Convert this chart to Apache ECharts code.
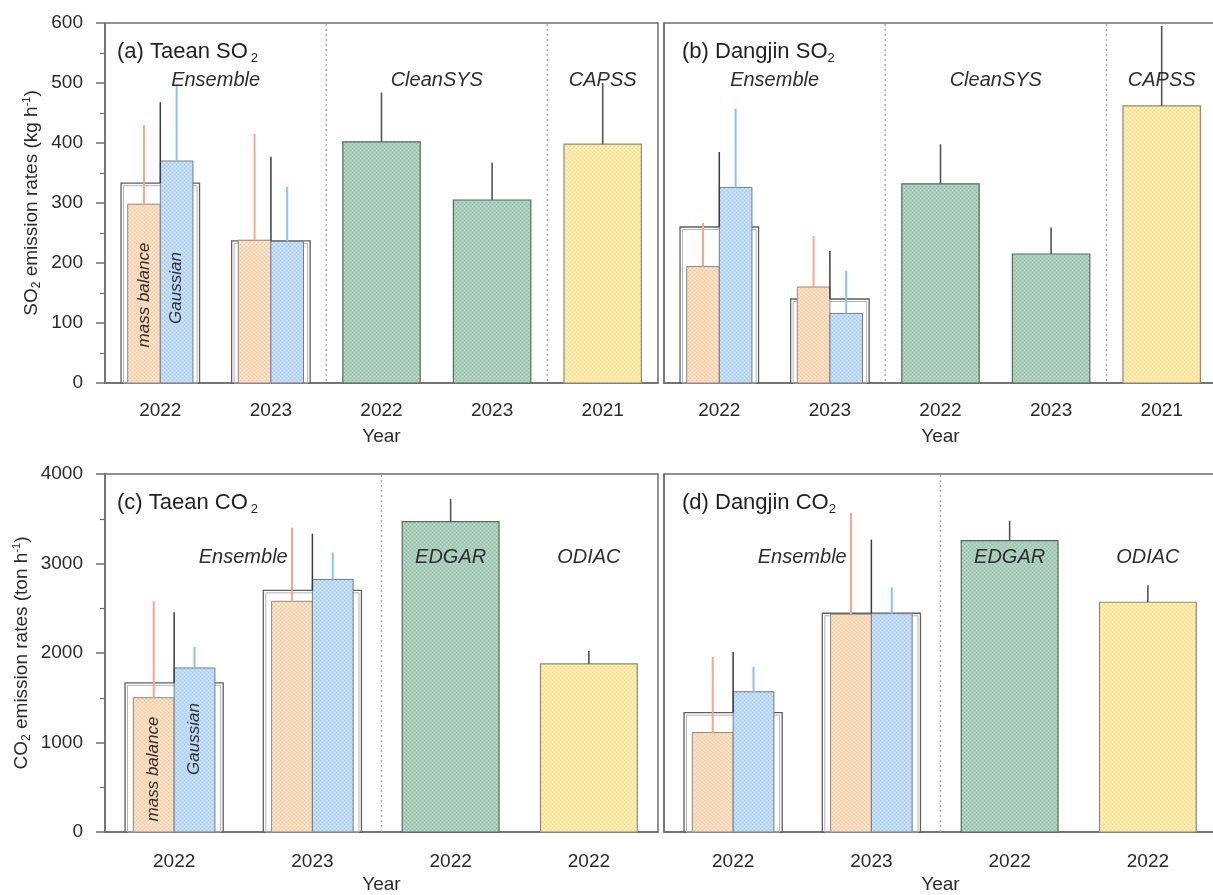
<!DOCTYPE html>
<html>
<head>
<meta charset="utf-8">
<script src="https://cdn.jsdelivr.net/npm/echarts@6/dist/echarts.min.js"></script>
<style>
  html, body { margin: 0; padding: 0; background: #fff; overflow: hidden; }
  /* the right-hand panels run past the visible edge, so the canvas is a bit wider than the page */
  #chart { width: 1240px; height: 895px; }
</style>
</head>
<body>
<div id="chart"></div>
<script>
// ---- categories ----
const SO2_YEARS = ['2022', '2023', '2022', '2023', '2021'];
const CO2_YEARS = ['2022', '2023', '2022', '2022'];
const SO2_TICKS = [0, 100, 200, 300, 400, 500, 600];
const CO2_TICKS = [0, 1000, 2000, 3000, 4000];

// inventory source of each single bar (categories after the two ensemble years)
const SO2_INV_SOURCES = ['CleanSYS', 'CleanSYS', 'CAPSS'];
const CO2_INV_SOURCES = ['EDGAR', 'ODIAC'];

// ---- (a) Taean SO2, kg h-1 ----
const taeanSO2Ens = [333, 237];
const taeanSO2EnsHi = [468, 377];
const taeanSO2Mass = [298, 238];
const taeanSO2MassHi = [430, 415];
const taeanSO2Gauss = [370, 236];
const taeanSO2GaussHi = [497, 327];
const taeanSO2Inv = [402, 305, 398];
const taeanSO2InvHi = [484, 367, 500];

// ---- (b) Dangjin SO2, kg h-1 ----
const dangjinSO2Ens = [260, 140];
const dangjinSO2EnsHi = [385, 220];
const dangjinSO2Mass = [194, 160];
const dangjinSO2MassHi = [267, 245];
const dangjinSO2Gauss = [326, 116];
const dangjinSO2GaussHi = [457, 187];
const dangjinSO2Inv = [332, 215, 462];
const dangjinSO2InvHi = [398, 259, 595];

// ---- (c) Taean CO2, ton h-1 ----
const taeanCO2Ens = [1667, 2700];
const taeanCO2EnsHi = [2456, 3333];
const taeanCO2Mass = [1500, 2578];
const taeanCO2MassHi = [2578, 3400];
const taeanCO2Gauss = [1833, 2822];
const taeanCO2GaussHi = [2067, 3122];
const taeanCO2Inv = [3467, 1878];
const taeanCO2InvHi = [3722, 2022];

// ---- (d) Dangjin CO2, ton h-1 ----
const dangjinCO2Ens = [1333, 2444];
const dangjinCO2EnsHi = [2011, 3267];
const dangjinCO2Mass = [1111, 2433];
const dangjinCO2MassHi = [1956, 3567];
const dangjinCO2Gauss = [1567, 2440];
const dangjinCO2GaussHi = [1844, 2733];
const dangjinCO2Inv = [3256, 2567];
const dangjinCO2InvHi = [3478, 2756];

// ---- styling ----
const FONT = '"Liberation Sans", Arial, sans-serif';
const FRAME = '#6e6e6e';
const TEXT = '#2a2a2a';

function hatch(base, dark, light) {
  const c = document.createElement('canvas');
  c.width = 4; c.height = 4;
  const g = c.getContext('2d');
  g.fillStyle = base; g.fillRect(0, 0, 4, 4);
  g.fillStyle = dark; g.fillRect(0, 0, 1, 1); g.fillRect(2, 2, 1, 1);
  g.fillStyle = light; g.fillRect(2, 0, 1, 1); g.fillRect(0, 2, 1, 1);
  return { image: c, repeat: 'repeat' };
}
const FILL_MASS = hatch('#fbd9bb', '#f3c6a2', '#fde8d6');
const FILL_GAUSS = hatch('#bcdaf8', '#a6cbf2', '#d4e7fb');
const FILL_GREEN = hatch('#a9cdbb', '#93bca8', '#c0dccd');
const FILL_YELLOW = hatch('#fde8a6', '#f8dc8e', '#fef2c8');
const INV_FILL = { CleanSYS: FILL_GREEN, EDGAR: FILL_GREEN, CAPSS: FILL_YELLOW, ODIAC: FILL_YELLOW };

const panels = [
  { tag: '(a) Taean SO', years: SO2_YEARS, ticks: SO2_TICKS, inv: SO2_INV_SOURCES, left: 105, top: 23, yName: 'SO', unit: 'kg h', gap: 62, pad: 3,
    ens: taeanSO2Ens, ensHi: taeanSO2EnsHi, mass: taeanSO2Mass, massHi: taeanSO2MassHi, gauss: taeanSO2Gauss, gaussHi: taeanSO2GaussHi, invV: taeanSO2Inv, invHi: taeanSO2InvHi },
  { tag: '(b) Dangjin SO', years: SO2_YEARS, ticks: SO2_TICKS, inv: SO2_INV_SOURCES, left: 664, top: 23, pad: 0,
    ens: dangjinSO2Ens, ensHi: dangjinSO2EnsHi, mass: dangjinSO2Mass, massHi: dangjinSO2MassHi, gauss: dangjinSO2Gauss, gaussHi: dangjinSO2GaussHi, invV: dangjinSO2Inv, invHi: dangjinSO2InvHi },
  { tag: '(c) Taean CO', years: CO2_YEARS, ticks: CO2_TICKS, inv: CO2_INV_SOURCES, left: 105, top: 474, yName: 'CO', unit: 'ton h', gap: 72, pad: 3,
    ens: taeanCO2Ens, ensHi: taeanCO2EnsHi, mass: taeanCO2Mass, massHi: taeanCO2MassHi, gauss: taeanCO2Gauss, gaussHi: taeanCO2GaussHi, invV: taeanCO2Inv, invHi: taeanCO2InvHi },
  { tag: '(d) Dangjin CO', years: CO2_YEARS, ticks: CO2_TICKS, inv: CO2_INV_SOURCES, left: 664, top: 474, pad: 0,
    ens: dangjinCO2Ens, ensHi: dangjinCO2EnsHi, mass: dangjinCO2Mass, massHi: dangjinCO2MassHi, gauss: dangjinCO2Gauss, gaussHi: dangjinCO2GaussHi, invV: dangjinCO2Inv, invHi: dangjinCO2InvHi }
];
const GRID_W = 553, GRID_H = 360;

// ensemble box + mass-balance / Gaussian bars + upper error whiskers
function renderGroup(params, api) {
  const i = api.value(0);
  const band = api.size([1, 0])[0];
  const base = api.coord([i, 0]);
  const cx = base[0], y0 = base[1];
  const y = v => api.coord([i, v])[1];
  const boxW = band * 0.71, half = band * 0.295;
  const ens = api.value(1), ensHi = api.value(2);
  const mb = api.value(3), mbHi = api.value(4);
  const ga = api.value(5), gaHi = api.value(6);
  const bx = cx - boxW / 2;
  return {
    type: 'group',
    children: [
      { type: 'rect', shape: { x: bx, y: y(ens), width: boxW, height: y0 - y(ens) },
        style: { fill: '#fff', stroke: '#5f5f5f', lineWidth: 1.3 } },
      { type: 'rect', shape: { x: bx + 2.5, y: y(ens) + 2.5, width: boxW - 5, height: y0 - y(ens) - 2.5 },
        style: { fill: 'none', stroke: '#b5b5b5', lineWidth: 1 } },
      { type: 'rect', shape: { x: cx - half, y: y(mb), width: half, height: y0 - y(mb) },
        style: { fill: FILL_MASS, stroke: '#8a8a8a', lineWidth: 1 } },
      { type: 'rect', shape: { x: cx, y: y(ga), width: half, height: y0 - y(ga) },
        style: { fill: FILL_GAUSS, stroke: '#7a7a7a', lineWidth: 1 } },
      { type: 'line', shape: { x1: cx - half / 2, y1: y(mb), x2: cx - half / 2, y2: y(mbHi) },
        style: { stroke: '#f8a78f', lineWidth: 2 } },
      { type: 'line', shape: { x1: cx + half / 2, y1: y(ga), x2: cx + half / 2, y2: y(gaHi) },
        style: { stroke: '#8ec1f3', lineWidth: 2 } },
      { type: 'line', shape: { x1: cx, y1: y(ens), x2: cx, y2: y(ensHi) },
        style: { stroke: '#3c3c3c', lineWidth: 1.5 } }
    ]
  };
}

// single inventory bars with upper whisker
function renderInv(sources) {
  return function (params, api) {
    const i = api.value(0);
    const band = api.size([1, 0])[0];
    const base = api.coord([i, 0]);
    const top = api.coord([i, api.value(1)]);
    const hi = api.coord([i, api.value(2)]);
    const w = band * 0.7;
    const src = sources[params.dataIndex];
    const yellow = INV_FILL[src] === FILL_YELLOW;
    return {
      type: 'group',
      children: [
        { type: 'rect', shape: { x: base[0] - w / 2, y: top[1], width: w, height: base[1] - top[1] },
          style: { fill: INV_FILL[src], stroke: yellow ? '#8c8c7a' : '#5a6a62', lineWidth: 1.2 } },
        { type: 'line', shape: { x1: base[0], y1: top[1], x2: base[0], y2: hi[1] },
          style: { stroke: '#555', lineWidth: 1.6 } }
      ]
    };
  };
}

const grid = [], xAxis = [], yAxis = [], series = [], title = [];
panels.forEach((p, k) => {
  grid.push({ left: p.left, top: p.top, width: GRID_W, height: GRID_H, show: true,
    borderColor: FRAME, borderWidth: 1.5, backgroundColor: 'transparent' });
  const isBottom = k >= 2;
  xAxis.push({
    type: 'category', gridIndex: k, data: p.years, boundaryGap: true,
    axisLine: { lineStyle: { color: FRAME, width: 1.5 } },
    axisTick: { alignWithLabel: true, length: 8, lineStyle: { color: FRAME, width: 1.5 } },
    axisLabel: { color: TEXT, fontSize: 19, fontFamily: FONT, margin: isBottom ? 20 : 18, interval: 0 },
    name: 'Year', nameLocation: 'middle', nameGap: isBottom ? 43 : 44,
    nameTextStyle: { color: TEXT, fontSize: 19, fontFamily: FONT }
  });
  const max = p.ticks[p.ticks.length - 1];
  const step = p.ticks[1] - p.ticks[0];
  const hasLabels = !!p.yName;
  yAxis.push({
    type: 'value', gridIndex: k, min: 0, max: max, interval: step,
    splitLine: { show: false },
    axisLine: { show: true, lineStyle: { color: FRAME, width: 1.5 } },
    axisTick: { show: hasLabels, length: 9, lineStyle: { color: FRAME, width: 1.5 } },
    minorTick: { show: hasLabels, splitNumber: 2, length: 5, lineStyle: { color: FRAME, width: 1.2 } },
    axisLabel: { show: hasLabels, color: TEXT, fontSize: 19, fontFamily: FONT, margin: 22,
      formatter: v => String(v) },
    name: hasLabels ? '{a|' + p.yName + '}{s|2}{a| emission rates (' + p.unit + '}{p|-1}{a|)}' : '',
    nameLocation: 'middle', nameRotate: 90, nameGap: p.gap || 0,
    nameTextStyle: {
      color: TEXT, fontFamily: FONT,
      rich: {
        a: { fontSize: 19, lineHeight: 22, fontFamily: FONT, color: TEXT },
        s: { fontSize: 12, lineHeight: 12, verticalAlign: 'bottom', fontFamily: FONT, color: TEXT },
        p: { fontSize: 11, lineHeight: 12, verticalAlign: 'top', fontFamily: FONT, color: TEXT }
      }
    }
  });
  title.push({
    text: '{t|' + p.tag + '}{s|2}',
    left: p.left + (k % 2 ? 13 : 7), top: p.top + 11,
    textStyle: {
      fontWeight: 'normal',
      rich: {
        t: { fontSize: 22, lineHeight: 26, fontWeight: 'normal', fontFamily: FONT, color: '#222' },
        s: { fontSize: 13, lineHeight: 13, fontWeight: 'normal', verticalAlign: 'bottom', padding: [0, 0, 0, p.pad], fontFamily: FONT, color: '#222' }
      }
    }
  });
  series.push({
    type: 'custom', xAxisIndex: k, yAxisIndex: k, renderItem: renderGroup,
    encode: { x: 0, y: 1 },
    data: p.ens.map((v, i) => [i, v, p.ensHi[i], p.mass[i], p.massHi[i], p.gauss[i], p.gaussHi[i]]),
    z: 3
  });
  series.push({
    type: 'custom', xAxisIndex: k, yAxisIndex: k, renderItem: renderInv(p.inv),
    encode: { x: 0, y: 1 },
    data: p.invV.map((v, i) => [i + 2, v, p.invHi[i]]),
    z: 3
  });
});

const chart = echarts.init(document.getElementById('chart'), null, { renderer: 'canvas' });
chart.setOption({ animation: false, grid, xAxis, yAxis, series, title });

// separators, group names and in-bar method names placed from axis pixels
const graphics = [];
const italic = (text, x, y, size) => ({
  type: 'text', x, y, z: 10,
  style: { text, fontSize: size, fontStyle: 'italic', fontFamily: FONT, fill: '#2e2e2e', align: 'center', verticalAlign: 'middle' }
});
panels.forEach((p, k) => {
  const px = i => chart.convertToPixel({ gridIndex: k }, [i, 0]);
  const isSO2 = p.years.length === 5;
  const bounds = isSO2 ? [1.5, 3.5] : [1.5];
  bounds.forEach(b => {
    const x = (px(Math.floor(b))[0] + px(Math.ceil(b))[0]) / 2;
    graphics.push({ type: 'line', z: 1, shape: { x1: x, y1: p.top + 1, x2: x, y2: p.top + GRID_H },
      style: { stroke: '#a8a8a8', lineWidth: 1.4, lineDash: [2, 3] } });
  });
  const ly = p.top + (isSO2 ? 57 : 83);
  const mid = (a, b) => (px(a)[0] + px(b)[0]) / 2;
  graphics.push(italic('Ensemble', mid(0, 1), ly, 20));
  if (isSO2) {
    graphics.push(italic('CleanSYS', mid(2, 3), ly, 20));
    graphics.push(italic('CAPSS', px(4)[0], ly, 20));
  } else {
    graphics.push(italic('EDGAR', px(2)[0], ly, 20));
    graphics.push(italic('ODIAC', px(3)[0], ly, 20));
  }
  if (p.yName) {
    const band = px(1)[0] - px(0)[0];
    const c0 = px(0);
    const half = band * 0.295;
    const mOff = isSO2 ? 88 : 63, gOff = isSO2 ? 95 : 93;
    graphics.push(Object.assign(italic('mass balance', c0[0] - half / 2, c0[1] - mOff, 17), { rotation: Math.PI / 2 }));
    graphics.push(Object.assign(italic('Gaussian', c0[0] + half / 2, c0[1] - gOff, 17), { rotation: Math.PI / 2 }));
  }
});
chart.setOption({ graphic: graphics });
</script>
</body>
</html>
